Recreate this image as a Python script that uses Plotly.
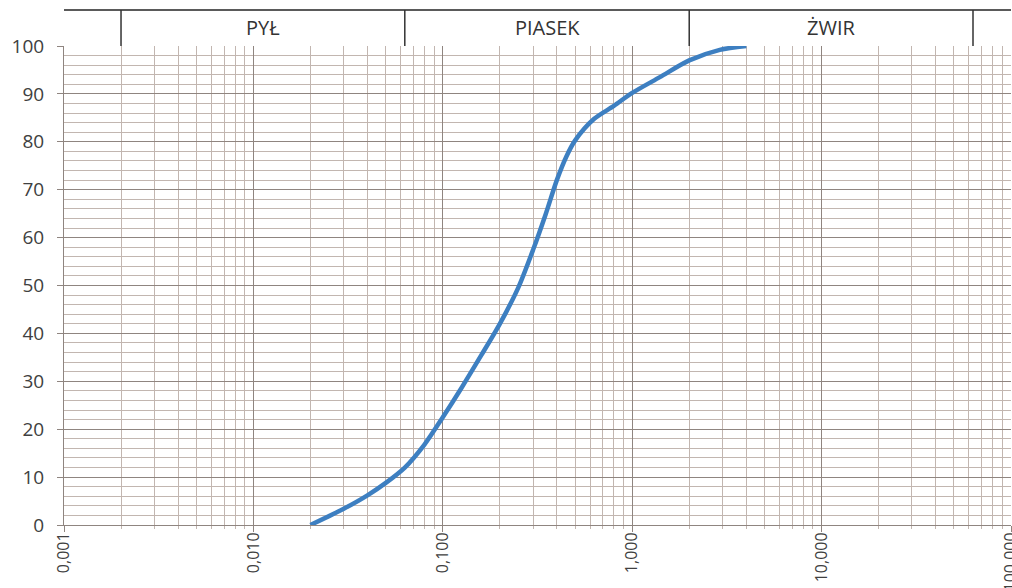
import math
import plotly.graph_objects as go

# grain size [mm] and percent passing
grain_mm = [0.02, 0.03, 0.04, 0.05, 0.063, 0.08, 0.1, 0.125, 0.16, 0.2, 0.25,
            0.3, 0.35, 0.4, 0.45, 0.5, 0.63, 0.8, 1.0, 1.4, 2.0, 2.9, 4.0]
passing = [0, 3.4, 6.2, 8.8, 12, 16.8, 22.5, 28.5, 35.5, 42, 49.5,
           57.5, 65, 72, 77, 80.3, 84.8, 87.5, 90.2, 93.5, 97, 99.2, 100]

zone_bounds = [0.002, 0.063, 2.0, 63.0]
zone_labels = ["PYŁ", "PIASEK", "ŻWIR"]

x_ticks = [0.001, 0.01, 0.1, 1, 10, 100]
y_ticks = list(range(0, 101, 10))

grid_minor = "#c2b6b0"
grid_major = "#8f8580"
text_col = "#404040"

fig = go.Figure()
fig.add_trace(go.Scatter(
    x=grain_mm, y=passing, mode="lines",
    line=dict(color="#3d7fc1", width=4.5, shape="spline", smoothing=0.8),
    showlegend=False, hoverinfo="skip", cliponaxis=False,
))

fig.update_layout(
    template="none",
    width=1012, height=588,
    margin=dict(l=64, r=1, t=46, b=63),
    paper_bgcolor="white", plot_bgcolor="white",
    separators=", ",
    font=dict(family="Open Sans, DejaVu Sans, sans-serif", color=text_col),
    showlegend=False,
)

fig.update_xaxes(
    type="log", range=[-3, 2], automargin=False,
    tickvals=x_ticks, tickformat=".3f", tickangle=-90,
    tickfont=dict(size=16, color=text_col), ticklabelstandoff=-6,
    ticklabeloverflow="allow",
    showgrid=True, gridcolor=grid_major, gridwidth=1,
    ticks="outside", ticklen=6, tickcolor=grid_major,
    minor=dict(dtick="D1", showgrid=True, gridcolor=grid_minor, gridwidth=1,
               ticks="outside", ticklen=3, tickcolor=grid_minor),
    showline=True, linecolor=grid_major, linewidth=1,
    zeroline=False, mirror=False,
)
fig.update_yaxes(
    range=[0, 100], automargin=False,
    tickvals=y_ticks, tickfont=dict(size=19, color=text_col), ticklabelstandoff=9,
    showgrid=True, gridcolor=grid_major, gridwidth=1,
    ticks="outside", ticklen=6, tickcolor=grid_major,
    minor=dict(dtick=2, showgrid=True, gridcolor=grid_minor, gridwidth=1, ticks=""),
    showline=True, linecolor=grid_major, linewidth=1,
    zeroline=False,
)

# header band above the plot
plot_h = 588 - 46 - 63
header_top = 1 + 36 / plot_h
fig.add_shape(type="line", xref="paper", yref="paper", x0=0, x1=1,
              y0=header_top, y1=header_top, line=dict(color="#5a5a5a", width=2))
for b in zone_bounds:
    fig.add_shape(type="line", xref="x", yref="paper", x0=b, x1=b,
                  y0=1, y1=header_top, line=dict(color="#333333", width=1.5))
for i, lab in enumerate(zone_labels):
    xc = (math.log10(zone_bounds[i]) + math.log10(zone_bounds[i + 1])) / 2
    fig.add_annotation(x=xc, xref="x", y=(1 + header_top) / 2, yref="paper",
                       xanchor="center", yanchor="middle",
                       text=lab, showarrow=False,
                       font=dict(size=20, color="#333333"))

fig.write_html("out.html")
